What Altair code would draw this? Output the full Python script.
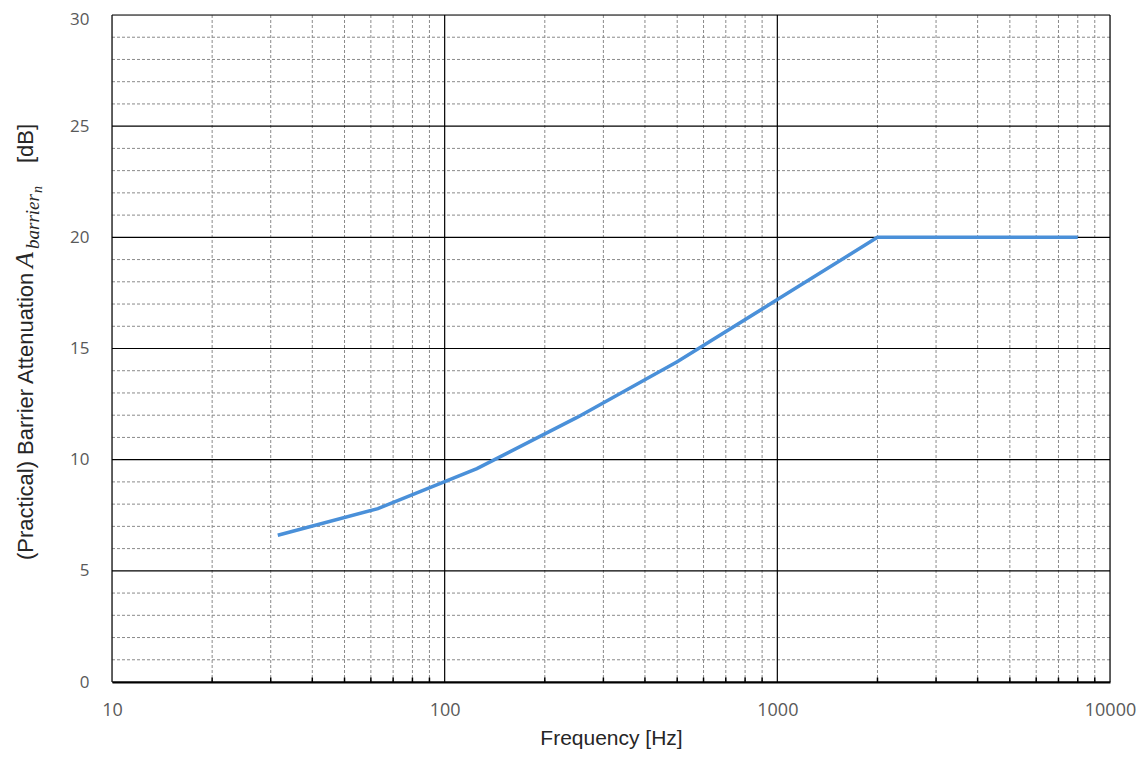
import altair as alt
import pandas as pd

# Data
freqs = [31.5, 63, 125, 250, 500, 1000, 2000, 4000, 8000]
atten = [6.6, 7.8, 9.6, 11.9, 14.4, 17.2, 20.0, 20.0, 20.0]

x_major = [10, 100, 1000, 10000]
x_minor = [m * d for d in (10, 100, 1000) for m in range(2, 10)]
y_major = [0, 5, 10, 15, 20, 25, 30]
y_minor = [v for v in range(1, 30) if v % 5 != 0]
x_labels = [10, 100, 1000, 10000]

W, H = 998, 667

xscale = alt.Scale(type="log", domain=[10, 10000], nice=False)
yscale = alt.Scale(domain=[0, 30], nice=False, zero=False)

xaxis = alt.Axis(
    values=x_labels, format="d", grid=False, ticks=False, tickSize=0,
    domain=True, domainColor="black", domainWidth=2, labelFlush=False,
    labelFont="Open Sans", labelFontSize=18, labelColor="#595959", labelPadding=19,
    title="Frequency [Hz]", titleFont="Liberation Sans", titleFontSize=21,
    titleFontWeight="normal", titleColor="#262626", titlePadding=8,
)
yaxis = alt.Axis(
    values=y_major, grid=False, ticks=False, tickSize=0, domain=False,
    labelFont="Open Sans", labelFontSize=17, labelColor="#595959", labelPadding=23,
    labelOffset=alt.expr("datum.value == 30 ? 4 : 0"),
    title=None,
)

minor_x = alt.Chart(pd.DataFrame({"f": x_minor})).mark_rule(
    color="#8a8a8a", strokeWidth=1, strokeDash=[3, 2]
).encode(x=alt.X("f:Q", scale=xscale, axis=xaxis))

minor_ticks = alt.Chart(pd.DataFrame({"f": x_minor})).mark_rule(
    color="black", strokeWidth=1.5
).encode(
    x=alt.X("f:Q", scale=xscale, axis=xaxis),
    y=alt.datum(0, scale=yscale),
    y2=alt.datum(0.2),
)

minor_y = alt.Chart(pd.DataFrame({"v": y_minor})).mark_rule(
    color="#8a8a8a", strokeWidth=1, strokeDash=[3, 2]
).encode(y=alt.Y("v:Q", scale=yscale, axis=yaxis))

major_x = alt.Chart(pd.DataFrame({"f": x_major})).mark_rule(
    color="black", strokeWidth=1.2
).encode(x=alt.X("f:Q", scale=xscale, axis=xaxis))

major_y = alt.Chart(pd.DataFrame({"v": y_major})).mark_rule(
    color="black", strokeWidth=1.2
).encode(y=alt.Y("v:Q", scale=yscale, axis=yaxis))

line = alt.Chart(pd.DataFrame({"f": freqs, "a": atten})).mark_line(
    color="#4a90d9", strokeWidth=3.5
).encode(
    x=alt.X("f:Q", scale=xscale, axis=xaxis),
    y=alt.Y("a:Q", scale=yscale, axis=yaxis),
)

one = pd.DataFrame({"k": [0]})

def title_piece(text, x, y, font, size, italic=False):
    return alt.Chart(one).mark_text(
        text=text, angle=270, align="left", baseline="alphabetic",
        font=font, fontSize=size, fontStyle="italic" if italic else "normal",
        color="#262626",
    ).encode(x=alt.value(x), y=alt.value(y))

ytitle = [
    title_piece("(Practical) Barrier Attenuation", -79, 545, "Liberation Sans", 22),
    title_piece("A", -79, 253, "Liberation Serif", 26, True),
    title_piece("barrier", -73, 234, "Liberation Serif", 19, True),
    title_piece("n", -70, 178, "Liberation Serif", 14, True),
    title_piece("[dB]", -79, 148, "Liberation Sans", 22),
]

chart = alt.layer(
    minor_x, minor_ticks, minor_y, major_x, major_y, line, *ytitle
).properties(
    width=W, height=H,
    padding={"left": 104, "top": 7, "right": 26, "bottom": 69},
    autosize=alt.AutoSizeParams(type="none"),
).configure_view(stroke=None).configure(background="white")

chart.save("out.html", embed_options={"renderer": "svg", "actions": False})
